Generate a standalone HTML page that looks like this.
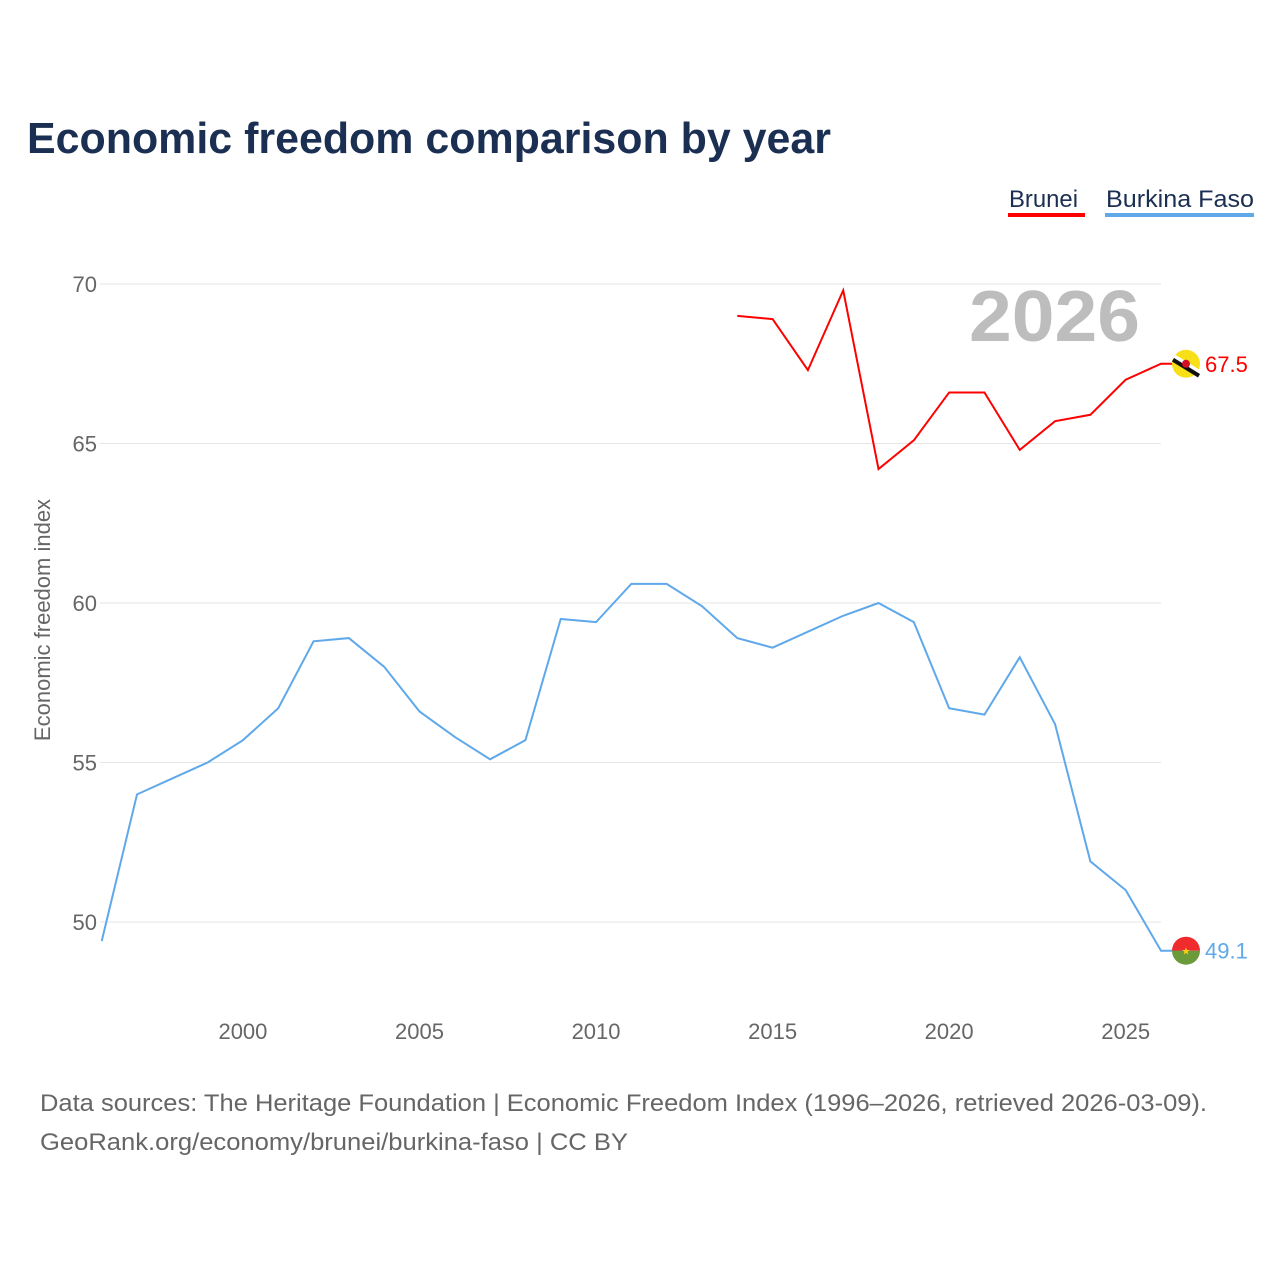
<!DOCTYPE html>
<html><head><meta charset="utf-8"><style>
body{margin:0;background:#fff;font-family:"Liberation Sans",sans-serif}
</style></head><body>
<svg id="chart" width="1280" height="1280" viewBox="0 0 1280 1280" xmlns="http://www.w3.org/2000/svg">
<text x="27" y="153" font-size="44" font-weight="bold" fill="#1b2f52" textLength="804" lengthAdjust="spacingAndGlyphs">Economic freedom comparison by year</text>
<g><text x="1009" y="207" font-size="24" fill="#1b2f52" textLength="69" lengthAdjust="spacingAndGlyphs">Brunei</text><rect x="1008" y="213" width="77" height="4" fill="#ff0000"/></g>
<g><text x="1106" y="207" font-size="24" fill="#1b2f52" textLength="148" lengthAdjust="spacingAndGlyphs">Burkina Faso</text><rect x="1105" y="213" width="149" height="4" fill="#5fa8ea"/></g>
<g id="grid"></g>
<text x="969" y="341" font-size="72" font-weight="bold" fill="#bdbdbd" textLength="171" lengthAdjust="spacingAndGlyphs">2026</text>
<text transform="translate(50,620) rotate(-90)" font-size="22" fill="#666" text-anchor="middle">Economic freedom index</text>
<g id="series"></g>
<text x="40" y="1111" font-size="24" fill="#666" textLength="1167" lengthAdjust="spacingAndGlyphs">Data sources: The Heritage Foundation | Economic Freedom Index (1996–2026, retrieved 2026-03-09).</text>
<text x="40" y="1150" font-size="24" fill="#666" textLength="588" lengthAdjust="spacingAndGlyphs">GeoRank.org/economy/brunei/burkina-faso | CC BY</text>
</svg>
<script>
const years = [1996,1997,1998,1999,2000,2001,2002,2003,2004,2005,2006,2007,2008,2009,2010,2011,2012,2013,2014,2015,2016,2017,2018,2019,2020,2021,2022,2023,2024,2025,2026];
const burkina = [49.4,54.0,54.5,55.0,55.7,56.7,58.8,58.9,58.0,56.6,55.8,55.1,55.7,59.5,59.4,60.6,60.6,59.9,58.9,58.6,59.1,59.6,60.0,59.4,56.7,56.5,58.3,56.2,51.9,51.0,49.1];
const bruneiYears = [2014,2015,2016,2017,2018,2019,2020,2021,2022,2023,2024,2025,2026];
const brunei = [69.0,68.9,67.3,69.8,64.2,65.1,66.6,66.6,64.8,65.7,65.9,67.0,67.5];
const yTicks = [50,55,60,65,70];
const xTicks = [2000,2005,2010,2015,2020,2025];
const NS="http://www.w3.org/2000/svg";
const x = v => 101.7 + (v-1996)*(1161-101.7)/30;
const y = v => 284 + (70-v)*31.9;
const grid=document.getElementById('grid'), ser=document.getElementById('series');
function mk(tag,attrs,parent){const e=document.createElementNS(NS,tag);for(const k in attrs)e.setAttribute(k,attrs[k]);parent.appendChild(e);return e;}
yTicks.forEach(t=>{
  const l=mk('line',{x1:100,x2:1161,y1:y(t),y2:y(t),stroke:'#e6e6e6','stroke-width':1},grid);
  
  
  const tx=mk('text',{x:97,y:y(t)+8,'font-size':22,fill:'#666','text-anchor':'end'},grid);
  tx.textContent=t;
  
  
});
xTicks.forEach(t=>{
  const tx=mk('text',{x:x(t),y:1039,'font-size':22,fill:'#666','text-anchor':'middle'},grid);
  tx.textContent=t;
  
  
});
function line(xs,vs,color,name){
  let d=xs.map((yr,i)=>(i?'L':'M')+x(yr)+','+y(vs[i])).join(' ');
  const lastY=y(vs[vs.length-1]);
  d+=' L1186,'+lastY;
  const p=mk('path',{d,fill:'none',stroke:color,'stroke-width':2},ser);
  
  
  return lastY;
}
const by=line(bruneiYears,brunei,'#ff0000','brunei-line');
const fy=line(years,burkina,'#5fa8ea','burkina-faso-line');
const g1=mk('g',{},ser);


mk('circle',{cx:1186,cy:by,r:14,fill:'#f7e017'},g1);
mk('line',{x1:1173,y1:by-8,x2:1199,y2:by+8,stroke:'#fff','stroke-width':4},g1);
mk('line',{x1:1173,y1:by-4,x2:1199,y2:by+12,stroke:'#111','stroke-width':4},g1);
mk('circle',{cx:1186,cy:by,r:4,fill:'#cf1126'},g1);
const t1=mk('text',{x:1205,y:by+8,'font-size':22,fill:'#ff0000'},ser);
t1.textContent=brunei[brunei.length-1].toFixed(1);


const g2=mk('g',{},ser);


mk('path',{d:`M1172,${fy} A14,14 0 0 1 1200,${fy} Z`,fill:'#ef2b2d'},g2);
mk('path',{d:`M1172,${fy} A14,14 0 0 0 1200,${fy} Z`,fill:'#6a9a3a'},g2);
const st=mk('text',{x:1186,y:fy+4,'font-size':10,fill:'#fcd116','text-anchor':'middle'},g2);st.textContent='★';
const t2=mk('text',{x:1205,y:fy+8,'font-size':22,fill:'#5fa8ea'},ser);
t2.textContent=burkina[burkina.length-1].toFixed(1);


</script>
</body></html>
